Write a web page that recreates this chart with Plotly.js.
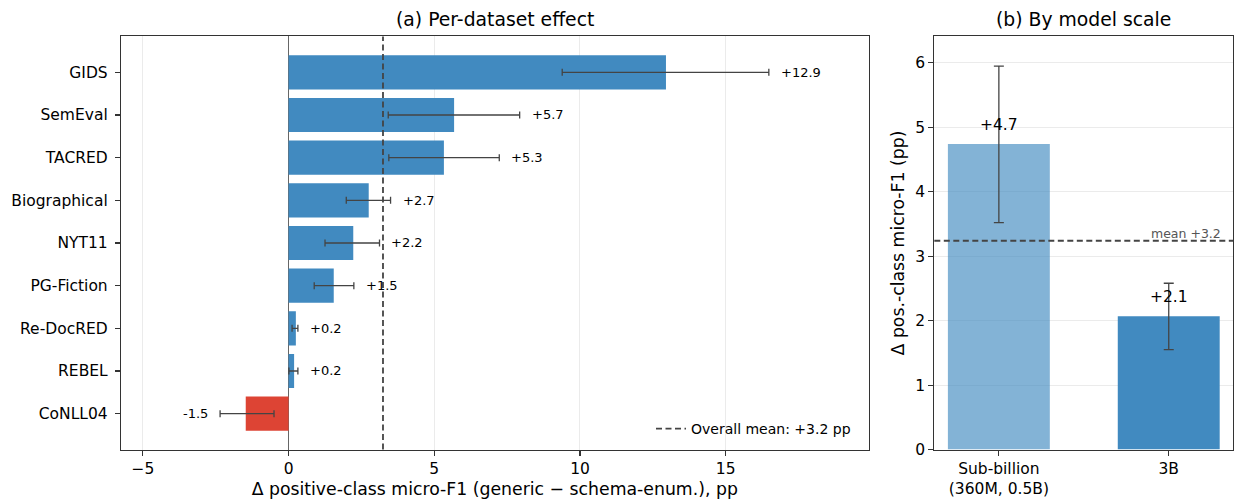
<!DOCTYPE html>
<html>
<head>
<meta charset="utf-8">
<script src="https://cdn.plot.ly/plotly-3.0.1.min.js"></script>
<style>
  html, body { margin: 0; padding: 0; background: #fff; }
  #chart { width: 1235px; height: 503px; }
</style>
</head>
<body>
<div id="chart"></div>
<script>
// ---- Data (a) per-dataset effect ----
const datasets = ["GIDS", "SemEval", "TACRED", "Biographical", "NYT11", "PG-Fiction", "Re-DocRED", "REBEL", "CoNLL04"];
const deltaPP = [12.95, 5.68, 5.33, 2.75, 2.22, 1.55, 0.25, 0.19, -1.47];
const ciLow  = [9.39, 3.42, 3.44, 1.98, 1.25, 0.88, 0.12, 0.01, -2.35];
const ciHigh = [16.48, 7.93, 7.23, 3.50, 3.12, 2.24, 0.32, 0.32, -0.50];
const deltaLabels = ["+12.9", "+5.7", "+5.3", "+2.7", "+2.2", "+1.5", "+0.2", "+0.2", "-1.5"];
const overallMean = 3.24;
const overallMeanLabel = "Overall mean: +3.2 pp";

// ---- Data (b) by model scale ----
const scales = ["Sub-billion<br>(360M, 0.5B)", "3B"];
const scaleDelta = [4.74, 2.07];
const scaleLow = [3.52, 1.55];
const scaleHigh = [5.95, 2.58];
const scaleLabels = ["+4.7", "+2.1"];
const scaleMeanLabel = "mean +3.2";

// ---- Styles ----
const FONT = "DejaVu Sans, sans-serif";
const BLUE = "rgb(65,138,192)";
const BLUE_LIGHT = "rgba(65,138,192,0.65)";
const RED = "rgb(221,68,52)";
const ERR = "#444";

const traceA = {
  type: "bar",
  orientation: "h",
  x: deltaPP,
  y: datasets,
  xaxis: "x", yaxis: "y",
  marker: { color: deltaPP.map(v => v < 0 ? RED : BLUE) },
  error_x: {
    type: "data", symmetric: false,
    array: ciHigh.map((h, i) => h - deltaPP[i]),
    arrayminus: ciLow.map((l, i) => deltaPP[i] - l),
    color: ERR, thickness: 1.3, width: 3.5
  },
  showlegend: false,
  hoverinfo: "skip"
};

const traceB = {
  type: "bar",
  x: scales,
  y: scaleDelta,
  xaxis: "x2", yaxis: "y2",
  width: 0.6,
  marker: { color: [BLUE_LIGHT, BLUE] },
  error_y: {
    type: "data", symmetric: false,
    array: scaleHigh.map((h, i) => h - scaleDelta[i]),
    arrayminus: scaleLow.map((l, i) => scaleDelta[i] - l),
    color: ERR, thickness: 1.3, width: 5
  },
  showlegend: false,
  hoverinfo: "skip"
};

const annotations = [];
datasets.forEach((d, i) => {
  const neg = deltaPP[i] < 0;
  annotations.push({
    xref: "x", yref: "y",
    x: neg ? ciLow[i] : ciHigh[i], y: d,
    text: deltaLabels[i], showarrow: false,
    xanchor: neg ? "right" : "left", yanchor: "middle",
    xshift: neg ? -10 : 10,
    font: { family: FONT, size: 13, color: "#000" }
  });
});
scales.forEach((s, i) => {
  annotations.push({
    xref: "x2", yref: "y2",
    x: s, y: scaleDelta[i] + 0.12,
    text: scaleLabels[i], showarrow: false,
    xanchor: "center", yanchor: "bottom",
    font: { family: FONT, size: 15.5, color: "#000" }
  });
});
annotations.push({
  xref: "x2 domain", yref: "y2",
  x: 0.966, y: overallMean,
  text: scaleMeanLabel, showarrow: false,
  xanchor: "right", yanchor: "bottom", yshift: -2,
  font: { family: FONT, size: 12.5, color: "#555" }
});
// subplot titles
annotations.push({
  xref: "paper", yref: "paper", x: (0.09798 + 0.70324) / 2, y: 1 - 19 / 503,
  text: "(a) Per-dataset effect", showarrow: false, xanchor: "center", yanchor: "middle",
  font: { family: FONT, size: 18.8, color: "#000" }
});
annotations.push({
  xref: "paper", yref: "paper", x: (0.75652 + 0.99862) / 2, y: 1 - 19 / 503,
  text: "(b) By model scale", showarrow: false, xanchor: "center", yanchor: "middle",
  font: { family: FONT, size: 18.8, color: "#000" }
});

const shapes = [
  {
    type: "line", xref: "x", yref: "y domain",
    x0: overallMean, x1: overallMean, y0: 0, y1: 1,
    line: { color: "#444", width: 1.8, dash: "6px,3.5px" },
    showlegend: true, name: overallMeanLabel
  },
  {
    type: "line", xref: "x2 domain", yref: "y2",
    x0: 0, x1: 1, y0: overallMean, y1: overallMean,
    line: { color: "#444", width: 1.8, dash: "6px,3.5px" }
  }
];

const axisCommon = {
  showline: true, mirror: true, linecolor: "#333", linewidth: 1.2,
  ticks: "outside", ticklen: 5, tickwidth: 1.1, tickcolor: "#333",
  tickfont: { family: FONT, size: 15.5, color: "#000" },
  gridcolor: "#ebebeb", gridwidth: 1
};

const layout = {
  width: 1235, height: 503,
  margin: { l: 0, r: 0, t: 0, b: 0 },
  paper_bgcolor: "#fff", plot_bgcolor: "#fff",
  font: { family: FONT, color: "#000" },
  xaxis: Object.assign({}, axisCommon, {
    domain: [0.09798, 0.70324], anchor: "y",
    range: [-5.75, 19.9], tickvals: [-5, 0, 5, 10, 15], ticktext: ["\u22125", "0", "5", "10", "15"],
    showgrid: true, zeroline: true, zerolinecolor: "#666", zerolinewidth: 1.3,
    title: { text: "\u0394 positive-class micro-F1 (generic \u2212 schema-enum.), pp", font: { family: FONT, size: 17.3, color: "#000" }, standoff: 5 }
  }),
  yaxis: Object.assign({}, axisCommon, {
    domain: [0.10636, 0.92744], anchor: "x",
    type: "category", range: [8.84, -0.84], autorange: false,
    showgrid: false, zeroline: false, ticklabelstandoff: 4
  }),
  xaxis2: Object.assign({}, axisCommon, {
    domain: [0.75652, 0.99862], anchor: "y2",
    type: "category", range: [-0.38, 1.38], autorange: false,
    showgrid: false, zeroline: false,
    tickfont: { family: FONT, size: 15.5, color: "#000" }
  }),
  yaxis2: Object.assign({}, axisCommon, {
    domain: [0.10636, 0.92744], anchor: "x2",
    range: [0, 6.41], autorange: false, tickvals: [0, 1, 2, 3, 4, 5, 6],
    showgrid: true, zeroline: false,
    title: { text: "\u0394 pos.-class micro-F1 (pp)", font: { family: FONT, size: 17.3, color: "#000" }, standoff: 6 }
  }),
  bargap: 0.2,
  showlegend: true,
  legend: {
    x: 651 / 1235, xanchor: "left", y: 1 - 429 / 503, yanchor: "middle",
    bgcolor: "rgba(255,255,255,0)", borderwidth: 0,
    font: { family: FONT, size: 14, color: "#000" }
  },
  annotations: annotations,
  shapes: shapes
};

Plotly.newPlot("chart", [traceA, traceB], layout, { staticPlot: true, displayModeBar: false });
</script>
</body>
</html>
